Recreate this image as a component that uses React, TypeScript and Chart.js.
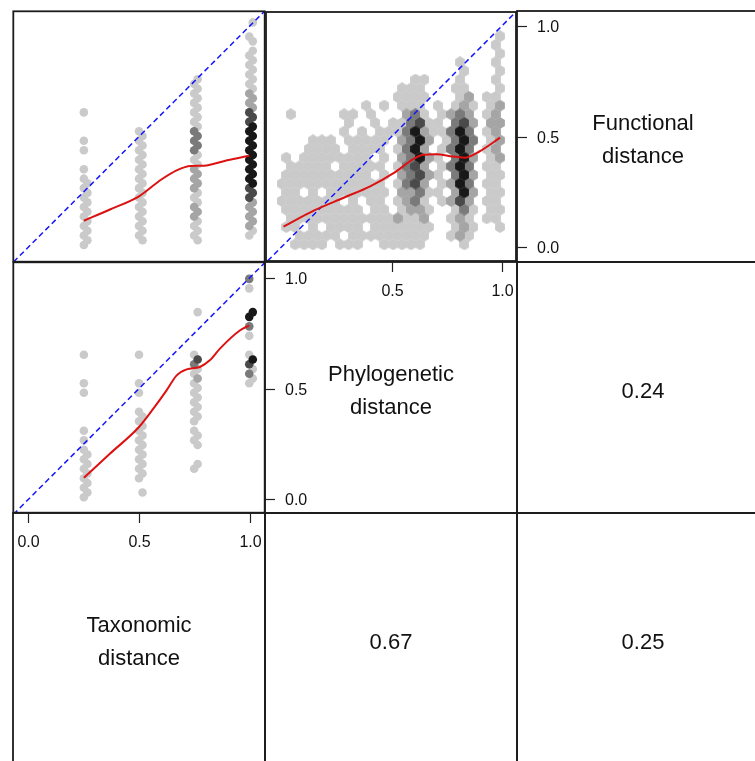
import React, { useEffect, useRef } from "react";
import { Chart, registerables } from "chart.js";

Chart.register(...registerables);

/* ------------------------------------------------------------------ */
/* data                                                                */
/* ------------------------------------------------------------------ */
const TICK_VALUES = [0, 0.5, 1.0];
const TOP_TICKS_PHYLO = [0.5, 1.0];

const VAR_TAXO = ["Taxonomic", "distance"];
const VAR_PHYLO = ["Phylogenetic", "distance"];
const VAR_FUNC = ["Functional", "distance"];

const R_PHYLO_FUNC = "0.24";
const R_TAXO_PHYLO = "0.67";
const R_TAXO_FUNC = "0.25";

// taxonomic distance classes (x of the two left panels)
const TAXO_CLASSES = [0.25, 0.5, 0.75, 1.0];
// hex rows used for the taxonomic panels: row j -> distance DOT_ROW0 + j * DOT_ROW_STEP
const DOT_ROW0 = 0.008;
const DOT_ROW_STEP = 0.0215;
const DOT_ZIG = 0.016;

// functional distance cells per taxonomic class: [fromRow, toRow, shade 1..5]
const FUNC_RUNS_BY_TAXO: number[][][] = [
  [[0, 14, 1], [16, 16, 1], [20, 20, 1], [22, 22, 1], [28, 28, 1]],
  [[1, 24, 1]],
  [[1, 5, 1], [6, 8, 2], [9, 11, 1], [12, 16, 2], [17, 19, 1], [20, 24, 3], [25, 35, 1]],
  [[2, 3, 1], [4, 9, 2], [10, 12, 4], [13, 25, 5], [26, 28, 4], [29, 32, 2], [33, 41, 1], [43, 44, 1], [47, 47, 1]],
];

// phylogenetic distance cells per taxonomic class: [fromRow, toRow, shade 1..5]
const PHYLO_RUNS_BY_TAXO: number[][][] = [
  [[0, 10, 1], [12, 12, 1], [14, 14, 1], [22, 22, 1], [24, 24, 1], [30, 30, 1]],
  [[1, 1, 1], [4, 18, 1], [22, 22, 1], [24, 24, 1], [30, 30, 1]],
  [[6, 7, 1], [11, 14, 1], [16, 24, 1], [25, 25, 2], [26, 27, 1], [28, 28, 3], [29, 29, 4], [30, 30, 1], [39, 39, 1]],
  [[24, 25, 1], [26, 26, 3], [27, 27, 1], [28, 28, 4], [29, 29, 5], [30, 30, 1], [34, 34, 1], [36, 36, 3], [38, 39, 5], [44, 44, 1], [46, 46, 3]],
];

// hexbin of functional (rows) vs phylogenetic (columns) distance
// cell (m, k): phylo = HEX_X0 + k*HEX_DX (+HEX_DX/2 on odd rows), functional = HEX_Y0 + m*HEX_DY
const HEX_X0 = -0.023;
const HEX_DX = 0.0408;
const HEX_Y0 = 0.008;
const HEX_DY = 0.0396;
// shade per cell ('.' = empty), bottom row first
const HEX_ROWS_PHYLO_FUNC = [
  "..111 1.111 ..111 11... .1... .",
  "..111 11.11 11111 11..1 21... .",
  ".11.1 .1111 .1111 111.. 121.. 1",
  ".1111 11111 11121 12..1 21.11 .",
  ".1111 11111 .11.1 221.. 131.1 1",
  "11111 11.1. 11.12 31.12 42.11 .",
  ".11.1 .1111 111.2 2311. 252.1 1",
  "11111 11111 11.13 42.12 53.11 .",
  ".1111 11111 1.1.2 3421. 352.1 1",
  ".1111 1.111 11.13 42.13 53.11 .",
  ".1.11 11111 1.1.2 3521. 352.1 2",
  "...11 11.11 11.13 52.13 53.12 .",
  "....1 11.11 111.2 352.1 353.1 2",
  "..... ..1.1 .1113 52113 53.12 .",
  "..... ...1. .1.11 3411. 342.2 2",
  ".1... ..11. 1...2 31.12 32.12 .",
  "..... ..... 1.1.1 11.1. 121.1 2",
  "..... ..... ...11 11... 12.11 .",
  "..... ..... ....1 11... 11... 1",
  "..... ..... ..... 11... 1...1 .",
  "..... ..... ..... ..... .1... 1",
  "..... ..... ..... ..... 1...1 .",
  "..... ..... ..... ..... ..... 1",
  "..... ..... ..... ..... ....1 .",
  "..... ..... ..... ..... ..... 1",
];

// loess smoothers
const LOESS_TF_X = [0.25, 0.371, 0.502, 0.598, 0.673, 0.734, 0.794, 0.9, 1.0];
const LOESS_TF_Y = [0.118, 0.17, 0.23, 0.303, 0.348, 0.367, 0.368, 0.393, 0.413];

const LOESS_PF_X = [0.005, 0.146, 0.281, 0.402, 0.511, 0.599, 0.644, 0.705, 0.78, 0.834, 0.902, 0.997];
const LOESS_PF_Y = [0.089, 0.163, 0.221, 0.273, 0.334, 0.397, 0.417, 0.42, 0.409, 0.404, 0.432, 0.495];

const LOESS_TP_X = [0.25, 0.369, 0.5, 0.565, 0.625, 0.671, 0.716, 0.776, 0.821, 0.866, 0.957, 1.0];
const LOESS_TP_Y = [0.096, 0.206, 0.326, 0.409, 0.492, 0.56, 0.587, 0.598, 0.628, 0.68, 0.763, 0.786];

// axis ranges
const X_RANGE_TAXO = [-0.07, 1.07];
const X_RANGE_PHYLO = [-0.075, 1.07];
const Y_RANGE_FUNC = [-0.068, 1.069];
const Y_RANGE_PHYLO = [-0.062, 1.072];

/* ------------------------------------------------------------------ */
/* styling & layout                                                    */
/* ------------------------------------------------------------------ */
const FONT = '"Liberation Sans", Arial, Helvetica, sans-serif';
const SHADES = ["#cacaca", "#cacaca", "#a5a5a5", "#7a7a7a", "#4a4a4a", "#181818"];
const FRAME_COLOR = "#1c1c1c";
const BLUE = "#1515ff";
const RED = "#dc1212";
const COL_X = [13, 265, 517];
const ROW_Y = [11, 262, 513];
const PW = 252;
const PH = 251;
const PAD = 4;

type Pt = { x: number; y: number; lvl: number };

function columnPoints(xs: number[], runs: number[][][]): Pt[] {
  const pts: Pt[] = [];
  runs.forEach((colRuns, ci) => {
    colRuns.forEach(([a, b, l]) => {
      for (let j = a; j <= b; j++) {
        pts.push({ x: xs[ci] + (j % 2 ? DOT_ZIG : 0), y: DOT_ROW0 + j * DOT_ROW_STEP, lvl: l });
      }
    });
  });
  return pts.sort((p, q) => p.lvl - q.lvl);
}

function hexPoints(rows: string[]): Pt[] {
  const pts: Pt[] = [];
  rows.forEach((row, m) => {
    const cells = row.replace(/ /g, "");
    for (let k = 0; k < cells.length; k++) {
      const ch = cells[k];
      if (ch === ".") continue;
      pts.push({ x: HEX_X0 + k * HEX_DX + (m % 2 ? HEX_DX / 2 : 0), y: HEX_Y0 + m * HEX_DY, lvl: Number(ch) });
    }
  });
  return pts.sort((p, q) => p.lvl - q.lvl);
}

function hexImage(color: string): HTMLCanvasElement {
  const c = document.createElement("canvas");
  c.width = 10;
  c.height = 12;
  const g = c.getContext("2d")!;
  g.fillStyle = color;
  g.beginPath();
  g.moveTo(5, 0);
  g.lineTo(9.9, 3);
  g.lineTo(9.9, 9);
  g.lineTo(5, 12);
  g.lineTo(0.1, 9);
  g.lineTo(0.1, 3);
  g.closePath();
  g.fill();
  return c;
}

const framePlugin = {
  id: "panelFrame",
  afterDraw(chart: any) {
    const { ctx, chartArea: a } = chart;
    ctx.save();
    ctx.strokeStyle = FRAME_COLOR;
    ctx.lineWidth = 1.8;
    ctx.strokeRect(a.left, a.top, a.right - a.left, a.bottom - a.top);
    ctx.restore();
  },
};

function axesPlugin(leftTicks: number[], topTicks: number[]) {
  return {
    id: "pairAxes",
    afterDraw(chart: any) {
      const { ctx, chartArea: a, scales } = chart;
      ctx.save();
      ctx.strokeStyle = "#222";
      ctx.lineWidth = 1.2;
      ctx.fillStyle = "#111";
      ctx.font = `16px ${FONT}`;
      leftTicks.forEach((v) => {
        const y = Math.round(scales.y.getPixelForValue(v)) + 0.5;
        ctx.beginPath();
        ctx.moveTo(a.left, y);
        ctx.lineTo(a.left + 10, y);
        ctx.stroke();
        ctx.textAlign = "left";
        ctx.textBaseline = "middle";
        ctx.fillText(v.toFixed(1), a.left + 20, y + 1);
      });
      topTicks.forEach((v) => {
        const x = Math.round(scales.x.getPixelForValue(v)) + 0.5;
        ctx.beginPath();
        ctx.moveTo(x, a.top);
        ctx.lineTo(x, a.top + 10);
        ctx.stroke();
        ctx.textAlign = "center";
        ctx.textBaseline = "middle";
        ctx.fillText(v.toFixed(1), x, a.top + 30);
      });
      ctx.restore();
    },
  };
}

function baseConfig(xr: number[], yr: number[], datasets: any[], plugins: any[]): any {
  return {
    type: "scatter",
    data: { datasets },
    options: {
      animation: false,
      responsive: false,
      maintainAspectRatio: false,
      events: [],
      layout: { padding: PAD },
      plugins: { legend: { display: false }, tooltip: { enabled: false }, title: { display: false } },
      scales: {
        x: { type: "linear", min: xr[0], max: xr[1], display: false },
        y: { type: "linear", min: yr[0], max: yr[1], display: false },
      },
    },
    plugins,
  };
}

function lineData(xs: number[], ys: number[]) {
  return xs.map((x, i) => ({ x, y: ys[i] }));
}

function diagDataset() {
  return {
    data: [{ x: -0.3, y: -0.3 }, { x: 1.3, y: 1.3 }],
    showLine: true,
    borderColor: BLUE,
    borderWidth: 1.5,
    borderDash: [5.5, 3.5],
    pointRadius: 0,
    clip: 0,
    order: 1,
  };
}

function loessDataset(xs: number[], ys: number[]) {
  return {
    data: lineData(xs, ys),
    showLine: true,
    borderColor: RED,
    borderWidth: 2,
    pointRadius: 0,
    cubicInterpolationMode: "monotone",
    clip: 0,
    order: 0,
  };
}

function dotDataset(points: Pt[]) {
  return {
    data: points,
    showLine: false,
    pointRadius: 4.3,
    pointBorderWidth: 0,
    pointBorderColor: "rgba(0,0,0,0)",
    pointBackgroundColor: (c: any) => SHADES[c.raw ? c.raw.lvl : 1],
    order: 2,
  };
}

function Panel({ r, c, make }: { r: number; c: number; make: () => any }) {
  const ref = useRef<HTMLCanvasElement>(null);
  useEffect(() => {
    const chart = new Chart(ref.current as HTMLCanvasElement, make());
    return () => chart.destroy();
  }, []);
  return (
    <canvas
      ref={ref}
      width={PW + 2 * PAD}
      height={PH + 2 * PAD}
      style={{ position: "absolute", left: COL_X[c] - PAD, top: ROW_Y[r] - PAD }}
    />
  );
}

function PanelText({ r, c, lines }: { r: number; c: number; lines: string[] }) {
  return (
    <div
      style={{
        position: "absolute",
        left: COL_X[c] + PW / 2,
        top: ROW_Y[r] + PH / 2 + 2,
        transform: "translate(-50%, -50%)",
        font: `22px/33px ${FONT}`,
        textAlign: "center",
        whiteSpace: "nowrap",
        color: "#111",
      }}
    >
      {lines.map((l, i) => (
        <div key={i}>{l}</div>
      ))}
    </div>
  );
}

export default function App() {
  const makeTaxoFunc = () =>
    baseConfig(X_RANGE_TAXO, Y_RANGE_FUNC, [
      loessDataset(LOESS_TF_X, LOESS_TF_Y),
      diagDataset(),
      dotDataset(columnPoints(TAXO_CLASSES, FUNC_RUNS_BY_TAXO)),
    ], [framePlugin]);

  const makePhyloFunc = () => {
    const imgs = SHADES.map((s) => hexImage(s));
    return baseConfig(X_RANGE_PHYLO, Y_RANGE_FUNC, [
      loessDataset(LOESS_PF_X, LOESS_PF_Y),
      diagDataset(),
      {
        data: hexPoints(HEX_ROWS_PHYLO_FUNC),
        showLine: false,
        pointRadius: 5,
        pointBorderWidth: 0,
        pointStyle: (ctx: any) => imgs[ctx.raw ? ctx.raw.lvl : 1],
        order: 2,
      },
    ], [framePlugin]);
  };

  const makeTaxoPhylo = () =>
    baseConfig(X_RANGE_TAXO, Y_RANGE_PHYLO, [
      loessDataset(LOESS_TP_X, LOESS_TP_Y),
      diagDataset(),
      dotDataset(columnPoints(TAXO_CLASSES, PHYLO_RUNS_BY_TAXO)),
    ], [framePlugin]);

  const makeFuncDiag = () => baseConfig(X_RANGE_PHYLO, Y_RANGE_FUNC, [], [framePlugin, axesPlugin(TICK_VALUES, [])]);
  const makePhyloDiag = () =>
    baseConfig(X_RANGE_PHYLO, Y_RANGE_PHYLO, [], [framePlugin, axesPlugin(TICK_VALUES, TOP_TICKS_PHYLO)]);
  const makeTaxoDiag = () => baseConfig(X_RANGE_TAXO, Y_RANGE_PHYLO, [], [framePlugin, axesPlugin([], TICK_VALUES)]);
  const makeEmpty = () => baseConfig(X_RANGE_TAXO, Y_RANGE_FUNC, [], [framePlugin]);

  return (
    <div
      style={{
        position: "absolute",
        left: 0,
        top: 0,
        width: 755,
        height: 761,
        overflow: "hidden",
        background: "#fff",
      }}
    >
      <Panel r={0} c={0} make={makeTaxoFunc} />
      <Panel r={0} c={1} make={makePhyloFunc} />
      <Panel r={0} c={2} make={makeFuncDiag} />
      <Panel r={1} c={0} make={makeTaxoPhylo} />
      <Panel r={1} c={1} make={makePhyloDiag} />
      <Panel r={1} c={2} make={makeEmpty} />
      <Panel r={2} c={0} make={makeTaxoDiag} />
      <Panel r={2} c={1} make={makeEmpty} />
      <Panel r={2} c={2} make={makeEmpty} />
      <PanelText r={0} c={2} lines={VAR_FUNC} />
      <PanelText r={1} c={1} lines={VAR_PHYLO} />
      <PanelText r={2} c={0} lines={VAR_TAXO} />
      <PanelText r={1} c={2} lines={[R_PHYLO_FUNC]} />
      <PanelText r={2} c={1} lines={[R_TAXO_PHYLO]} />
      <PanelText r={2} c={2} lines={[R_TAXO_FUNC]} />
    </div>
  );
}
